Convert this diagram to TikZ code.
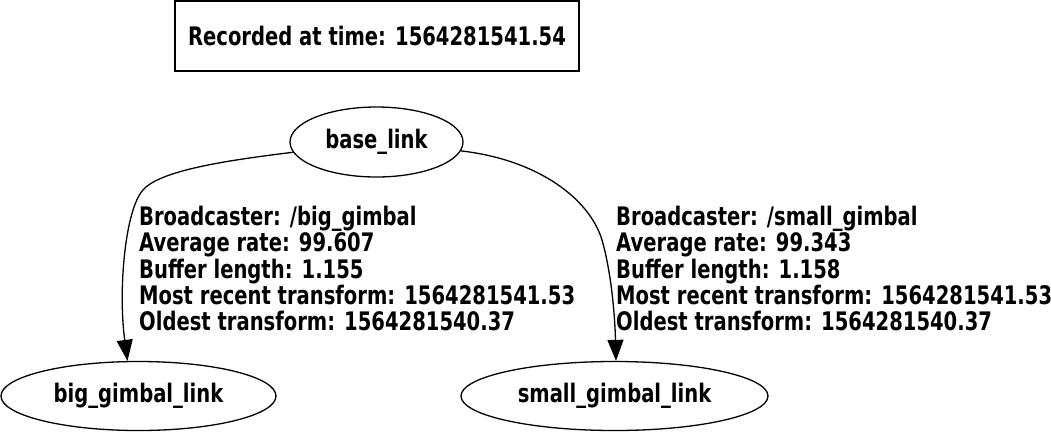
\documentclass[tikz,border=0pt]{standalone}
\usepackage{fontspec}
\setmainfont{DejaVu Sans}[FakeStretch=0.767]
\usetikzlibrary{arrows.meta,calc,shapes.geometric}
\begin{document}
\begin{tikzpicture}[x=1pt,y=-1pt,
  lbl/.style={font=\fontsize{25.5}{26.3}\selectfont\bfseries},
  frame/.style={draw,ellipse,line width=1.3pt,lbl,inner sep=0pt},
  edge/.style={line width=1.3pt,-{Triangle[length=21pt,width=16pt]}},
  elabel/.style={lbl,align=left,anchor=north west,inner sep=0pt}]
\useasboundingbox (0,0) rectangle (1051,432);
\node[draw,line width=1.3pt,minimum width=404pt,minimum height=70pt,lbl] (rec) at (377,36) {Recorded at time: 1564281541.54};
\node[frame,minimum width=173pt,minimum height=70pt] (base) at (376.5,142) {base\_link};
\node[frame,minimum width=275pt,minimum height=69pt] (big) at (138.5,396) {big\_gimbal\_link};
\node[frame,minimum width=307pt,minimum height=69pt] (small) at (614.5,396) {small\_gimbal\_link};
\draw[edge] (base.187) .. controls (230,160) and (160,170) .. (143,190) .. controls (125,210) and (118,290) .. ($(big.north)+(-11,0)$);
\draw[edge] (base.354) .. controls (540,160) and (590,200) .. (602,240) .. controls (612,275) and (615,320) .. ($(small.north)+(1.5,0)$);
\node[elabel] (l1) at (139,206) {Broadcaster: /big\_gimbal\\Average rate: 99.607\\Buffer length: 1.155\\Most recent transform: 1564281541.53\\Oldest transform: 1564281540.37};
\node[elabel] (l2) at (616,206) {Broadcaster: /small\_gimbal\\Average rate: 99.343\\Buffer length: 1.158\\Most recent transform: 1564281541.53\\Oldest transform: 1564281540.37};
\end{tikzpicture}
\end{document}
